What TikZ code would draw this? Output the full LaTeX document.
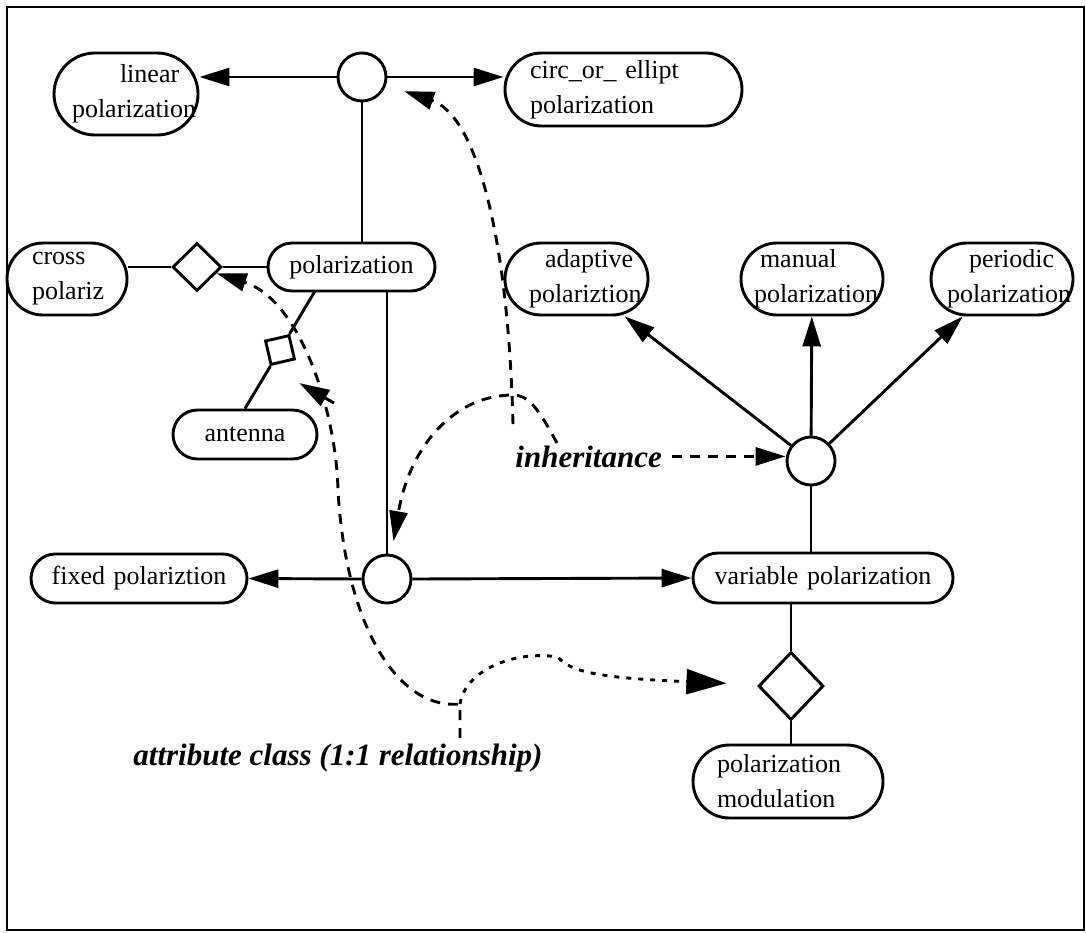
\documentclass[tikz,border=0pt]{standalone}
\usepackage{fontspec}
\setmainfont{Liberation Serif}
\usetikzlibrary{arrows.meta,shapes.geometric}

\newcommand\clsfont{\fontsize{26}{35}\selectfont}
\newcommand\notefont{\fontsize{31}{37}\selectfont\bfseries\itshape}

\begin{document}
\begin{tikzpicture}[x=1pt,y=-1pt,line width=2.9pt,
    >={Triangle[length=30pt,width=18pt]},
    cls/.style={draw,rectangle,rounded corners=#1,inner sep=0pt,align=left,font=\clsfont},
    gen/.style={draw,circle,inner sep=0pt,minimum size=48pt},
    agg/.style={draw,diamond,inner sep=0pt},
    note/.style={inner sep=0pt,font=\notefont},
    hint/.style={dash pattern=on 10pt off 8pt}]
  \useasboundingbox (0,0) rectangle (1086,932);
  \draw[line width=2.5pt] (7,7) rectangle (1084,930);

  \node[cls=41pt,text width=144pt,minimum height=82pt] (linpol) at (126,94) {\hspace*{66pt}linear\\\hspace*{18pt}polarization};
  \node[cls=36.5pt,text width=237pt,minimum height=73pt] (circpol) at (623.5,89.5) {\hspace*{25pt}circ\_or\_ ellipt\\\hspace*{25pt}polarization};
  \node[cls=36pt,text width=120pt,minimum height=72pt] (crosspol) at (67,279) {\hspace*{25pt}cross\\\hspace*{25pt}polariz};
  \node[cls=24pt,text width=167pt,minimum height=48pt,align=center] (polar) at (351.5,267) {polarization};
  \node[cls=24.5pt,text width=144pt,minimum height=49pt,align=center] (ant) at (245,434.5) {antenna};
  \node[cls=24.5pt,text width=216pt,minimum height=49pt,align=center] (fixpol) at (139,578.5) {fixed polariztion};
  \node[cls=25pt,text width=260pt,minimum height=50pt,align=center] (varpol) at (823,578) {variable polarization};
  \node[cls=36.5pt,text width=190pt,minimum height=73pt] (modpol) at (788,781.5) {\hspace*{24pt}polarization\\\hspace*{24pt}modulation};
  \node[cls=36pt,text width=143pt,minimum height=72pt] (adapt) at (576.5,279) {\hspace*{40pt}adaptive\\\hspace*{24pt}polariztion};
  \node[cls=36pt,text width=142pt,minimum height=72pt] (manual) at (812,279) {\hspace*{19pt}manual\\\hspace*{13pt}polarization};
  \node[cls=36pt,text width=142pt,minimum height=72pt] (periodic) at (1002,279) {\hspace*{38pt}periodic\\\hspace*{16pt}polarization};

  \node[gen] (tc) at (362,77) {};
  \node[gen] (lc) at (387,579) {};
  \node[gen] (rc) at (811,461) {};
  \node[agg,minimum width=49pt,minimum height=48pt] (cdia) at (197,267) {};
  \node[agg,minimum width=65pt,minimum height=68pt] (mdia) at (791,686) {};
  \node[draw,inner sep=0pt,minimum size=24pt,rotate=13] (sq) at (280,350) {};

  \node[note,anchor=base west] (inh) at (514,467) {inheritance};
  \node[note,anchor=base west] (attr) at (132,765) {attribute class (1:1 relationship)};

  \draw[->] (tc.west) -- (tc.west -| linpol.east);
  \draw[->] (tc.east) -- (tc.east -| circpol.west);
  \draw (tc.south) -- (tc.south |- polar.north);
  \draw (cdia.west) -- (cdia.west -| crosspol.east);
  \draw (cdia.east) -- (polar.west);
  \coordinate (pa) at (315,291);
  \draw (pa) -- (sq);
  \draw (sq) -- (ant.north);
  \draw (lc.north) -- (lc.north |- polar.south);
  \draw[->] (lc.west) -- (fixpol.east);
  \draw[->] (lc.east) -- (varpol.west);
  \draw[->] (rc) -- (adapt);
  \draw[->] (rc) -- (manual);
  \draw[->] (rc) -- (periodic);
  \draw (rc.south) -- (rc.south |- varpol.north);
  \draw (mdia.north) -- (mdia.north |- varpol.south);
  \draw (mdia.south) -- (mdia.south |- modpol.north);

  \coordinate (inhA) at (513,424);
  \coordinate (inhB) at (557,443);
  \draw[hint,->,shorten >=19pt] (inhA) .. controls (508,230) and (475,115) .. (tc);
  \draw[hint,->,shorten >=13pt] (inhB) .. controls (540,412) and (530,395) .. (513,395) .. controls (455,395) and (410,445) .. (lc);
  \draw[hint,->,shorten <=9pt] (inh.east) -- (inh.east -| rc.west);

  \coordinate (attA) at (460,738);
  \coordinate (attJ) at (460,704);
  \coordinate (attS) at (334,403);
  \draw[hint,->] (attA) -- (attJ) .. controls (395,710) and (345,620) .. (338,490) .. controls (336,410) and (300,300) .. (cdia);
  \draw[hint,->,shorten >=34pt] (attS) -- (sq.south west);
  \draw[dash pattern=on 5pt off 7pt,-{Triangle[length=40pt,width=25pt]},shorten >=32pt] (attJ) .. controls (465,670) and (515,650) .. (558,657) .. controls (570,672) and (600,678) .. (mdia);
\end{tikzpicture}
\end{document}
